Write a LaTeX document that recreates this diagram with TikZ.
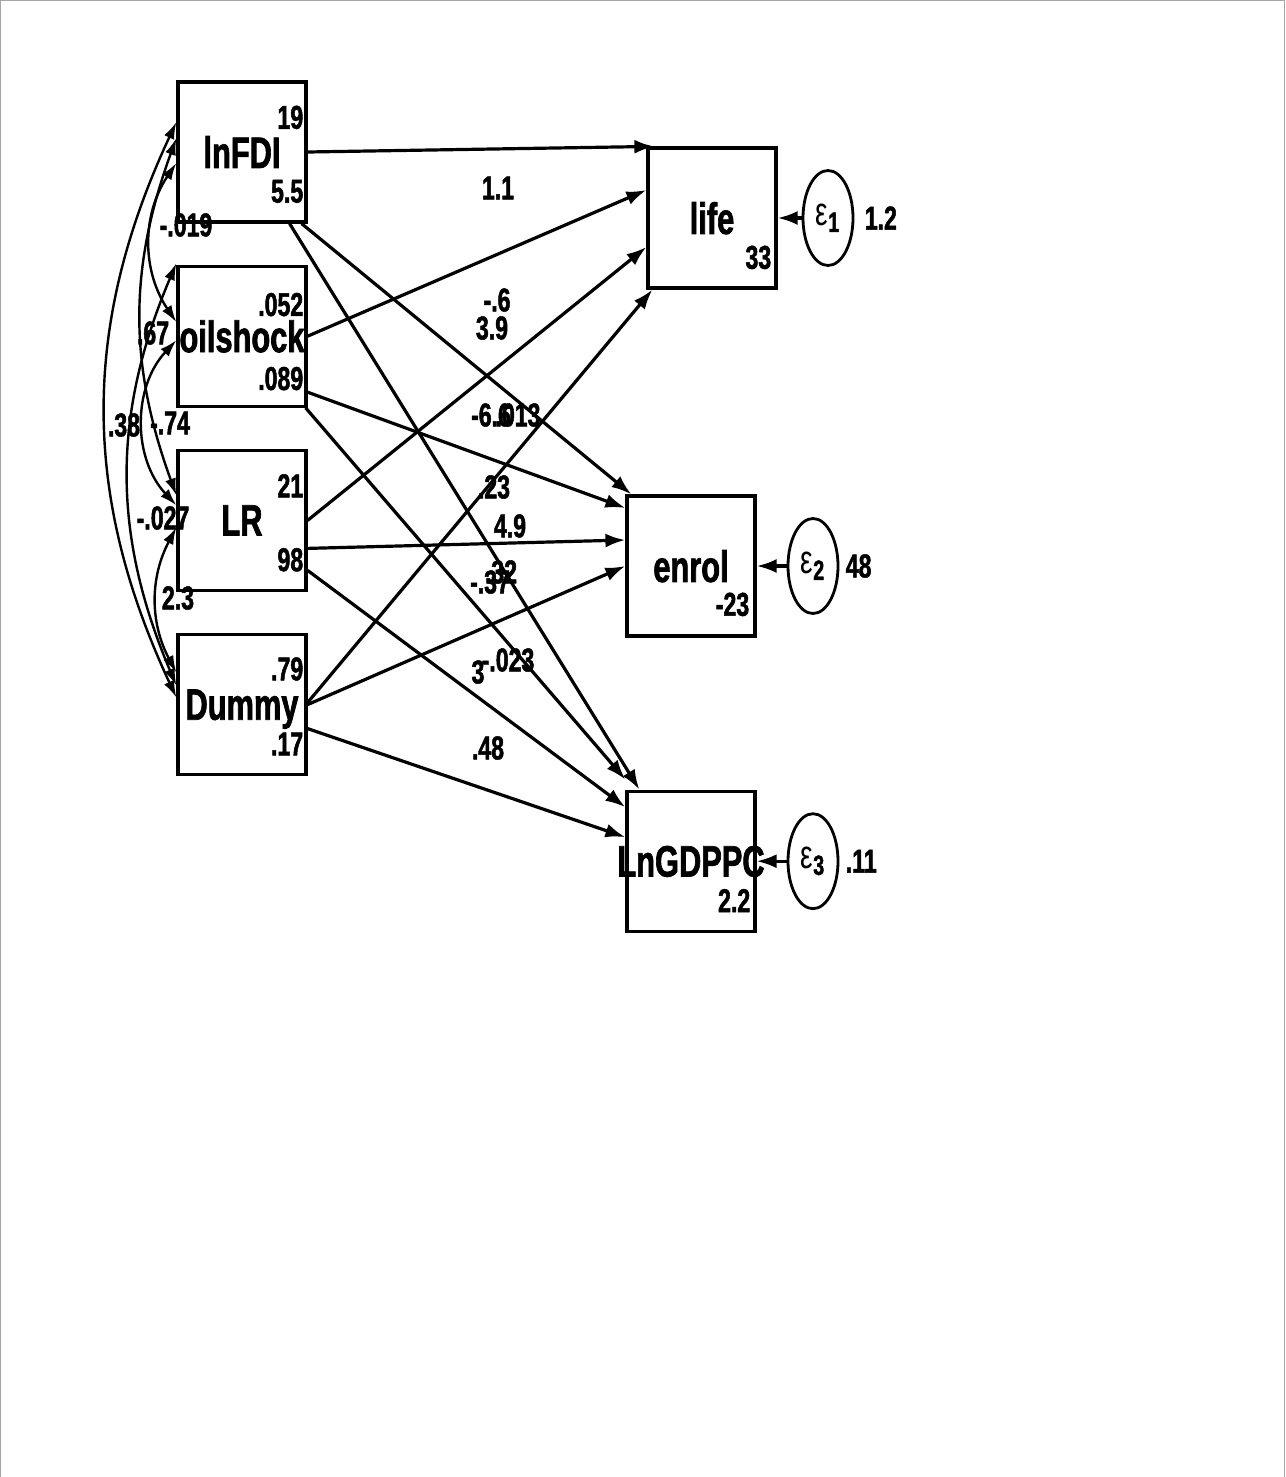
\documentclass[tikz,border=0pt]{standalone}
\usepackage{fontspec}
\setmainfont{Liberation Sans}[FakeStretch=0.7, BoldFeatures={FakeBold=1.5}]
\usetikzlibrary{positioning,arrows.meta,shapes.geometric}

\begin{document}
\begin{tikzpicture}[
    x=0.5pt, y=0.5pt,
    node distance=20.5pt,
    varbox/.style={rectangle, draw, line width=1.6pt, minimum width=64pt,
                   minimum height=70pt, inner sep=0pt, text depth=0pt,
                   font=\fontsize{22}{22}\selectfont\bfseries},
    errcirc/.style={ellipse, draw, line width=1.4pt, minimum width=25pt,
                    minimum height=47.5pt, inner sep=0pt,
                    font=\fontsize{20}{20}\selectfont},
    numlabel/.style={inner sep=0pt, font=\fontsize{16.5}{16.5}\selectfont\bfseries},
    coef/.style={inner sep=0pt, font=\fontsize{16.5}{16.5}\selectfont\bfseries},
    patharrow/.style={-{Latex[length=10pt,width=7pt]}, line width=1.6pt},
    covarrow/.style={{Latex[length=8.5pt,width=5.5pt]}-{Latex[length=8.5pt,width=5.5pt]}, line width=1.2pt},
]
\useasboundingbox (0,0) rectangle (1285,-1477);
\draw[gray!70, line width=0.8pt] (0.5,-1477) |- (1284.5,-0.5) -- (1284.5,-1477);

% Exogenous variables
\node[varbox] (lnfdi) at (242,-152) {lnFDI};
\node[varbox, below=of lnfdi] (oilshock) {oilshock};
\node[varbox, below=of oilshock] (lr) {LR};
\node[varbox, below=of lr] (dummy) {Dummy};

% Endogenous variables
\node[varbox] (life) at (712,-218) {life};
\node[varbox] (enrol) at (691,-566) {enrol};
\node[varbox, below=76pt of enrol] (lngdppc) {\makebox[0pt]{LnGDPPC}};

% Errors
\node[errcirc, right=12pt of life] (e1) {ε\textsubscript{\textbf{1}}};
\node[errcirc, right=15pt of enrol] (e2) {ε\textsubscript{\textbf{2}}};
\node[errcirc, right=15pt of lngdppc] (e3) {ε\textsubscript{\textbf{3}}};
\node[numlabel, right=5pt of e1] (e1var) {1.2};
\node[numlabel, right=3pt of e2] (e2var) {48};
\node[numlabel, right=3pt of e3] (e3var) {.11};

% Means and variances / intercepts
\node[numlabel, anchor=east] (lnfdi-mean) at ([shift={(-2pt,-18.5pt)}]lnfdi.north east) {19};
\node[numlabel, anchor=east] (lnfdi-var) at ([shift={(-2pt,-55.5pt)}]lnfdi.north east) {5.5};
\node[numlabel, anchor=east] (oilshock-mean) at ([shift={(-2pt,-20pt)}]oilshock.north east) {.052};
\node[numlabel, anchor=east] (oilshock-var) at ([shift={(-2pt,-57pt)}]oilshock.north east) {.089};
\node[numlabel, anchor=east] (lr-mean) at ([shift={(-2pt,-18.5pt)}]lr.north east) {21};
\node[numlabel, anchor=east] (lr-var) at ([shift={(-2pt,-55.5pt)}]lr.north east) {98};
\node[numlabel, anchor=east] (dummy-mean) at ([shift={(-2pt,-18pt)}]dummy.north east) {.79};
\node[numlabel, anchor=east] (dummy-var) at ([shift={(-2pt,-55.5pt)}]dummy.north east) {.17};
\node[numlabel, anchor=east] (life-cons) at ([shift={(-3pt,-55.5pt)}]life.north east) {33};
\node[numlabel, anchor=east] (enrol-cons) at ([shift={(-3.5pt,-55pt)}]enrol.north east) {-23};
\node[numlabel, anchor=east] (lngdppc-cons) at ([shift={(-3pt,-55.5pt)}]lngdppc.north east) {2.2};

% Paths
\draw[patharrow] (lnfdi.east) -- ([xshift=4pt]life.north west);
\draw[patharrow] ([xshift=-3pt]lnfdi.south east) -- ([xshift=3pt]enrol.north west);
\draw[patharrow] ([xshift=-9pt]lnfdi.south east) -- ([xshift=7pt]lngdppc.north west);
\draw[patharrow] (oilshock.east) -- ([yshift=14pt]life.west);
\draw[patharrow] ([yshift=-28pt]oilshock.east) -- ([yshift=29pt]enrol.west);
\draw[patharrow] ([xshift=-1pt]oilshock.south east) -- ([yshift=5pt]lngdppc.north west);
\draw[patharrow] (lr.east) -- ([yshift=-14.5pt]life.west);
\draw[patharrow] ([yshift=-14pt]lr.east) -- ([yshift=13pt]enrol.west);
\draw[patharrow] ([yshift=-25pt]lr.east) -- ([yshift=27pt]lngdppc.west);
\draw[patharrow] ([yshift=1pt]dummy.east) -- ([xshift=3pt]life.south west);
\draw[patharrow] (dummy.east) -- (enrol.west);
\draw[patharrow] ([yshift=-12pt]dummy.east) -- ([yshift=12pt]lngdppc.west);

% Errors to variables
\draw[patharrow] (e1) -- (life);
\draw[patharrow] (e2) -- (enrol);
\draw[patharrow] (e3) -- (lngdppc);

% Covariances
\draw[covarrow] ([yshift=15pt]lnfdi.west) to[out=245, in=115] ([yshift=3.5pt]dummy.west);
\draw[covarrow] ([yshift=7pt]lnfdi.west) to[out=250, in=110] ([yshift=12.5pt]lr.west);
\draw[covarrow] ([yshift=-5.5pt]lnfdi.west) to[out=236, in=124] ([yshift=7pt]oilshock.west);
\draw[covarrow] ([yshift=36.5pt]oilshock.west) to[out=247, in=113] ([yshift=9.5pt]dummy.west);
\draw[covarrow] ([yshift=-2pt]oilshock.west) to[out=227, in=133] ([yshift=7.5pt]lr.west);
\draw[covarrow] ([yshift=-3.5pt]lr.west) to[out=242, in=118] ([yshift=16pt]dummy.west);

% Coefficient labels
\node[coef] (c-fdi-life) at (498,-188) {1.1};
\node[coef] (c-oil-life) at (497,-300) {-.6};
\node[coef] (c-lr-life) at (492,-328) {3.9};
\node[coef] (c-oil-enrol) at (491,-415) {-6.6};
\node[coef] (c-fdi-enrol) at (518,-415) {.013};
\node[coef] (c-dum-life) at (494,-487) {.23};
\node[coef] (c-lr-enrol) at (510,-526) {4.9};
\node[coef] (c-fdi-gdp) at (490,-582) {-.37};
\node[coef] (c-dum-enrol) at (501,-572) {.32};
\node[coef] (c-oil-gdp) at (478,-672) {3};
\node[coef] (c-lr-gdp) at (508,-660) {-.023};
\node[coef] (c-dum-gdp) at (488,-748) {.48};

\node[coef] (cov-fdi-oil) at (186,-225) {-.019};
\node[coef] (cov-fdi-lr) at (153,-333) {.67};
\node[coef] (cov-fdi-dum) at (124,-425) {.38};
\node[coef] (cov-oil-lr) at (170,-423) {-.74};
\node[coef] (cov-oil-dum) at (163,-518) {-.027};
\node[coef] (cov-lr-dum) at (178,-598) {2.3};

\end{tikzpicture}
\end{document}
